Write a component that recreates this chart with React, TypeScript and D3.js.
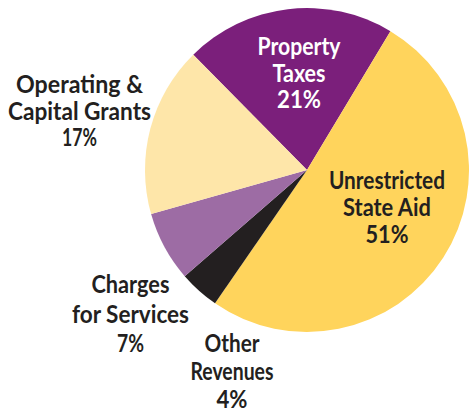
import React from "react";
import * as d3 from "d3";

const categories = ["Property Taxes", "Unrestricted State Aid", "Other Revenues", "Charges for Services", "Operating & Capital Grants"];
const values = [21, 51, 4, 7, 17];
const labelLines = [
  ["Property", "Taxes", "21%"],
  ["Unrestricted", "State Aid", "51%"],
  ["Other", "Revenues", "4%"],
  ["Charges", "for Services", "7%"],
  ["Operating &", "Capital Grants", "17%"],
];
const colors = ["#7B1F7B", "#FFD45C", "#231F20", "#9D6CA4", "#FEE6A9"];
const textColors = ["#FFFFFF", "#231F20", "#231F20", "#231F20", "#231F20"];

// layout: center x, first baseline, line gap, widths of each line
const labelLayout = [
  { x: 299, y: 55, gap: 26.7, widths: [83, 53, 44] },
  { x: 387, y: 189.3, gap: 27, widths: [116, 88, 43] },
  { x: 232, y: 351.7, gap: 28.3, widths: [55, 83, 31] },
  { x: 130.5, y: 293.3, gap: 29.5, widths: [78, 117, 27] },
  { x: 79.5, y: 93.3, gap: 26.5, widths: [127, 143, 35] },
];

export default function App() {
  const W = 469, H = 413;
  const cx = 307, cy = 170, r = 162;
  const start = (-44.6 * Math.PI) / 180;
  const pie = d3.pie<number>().sort(null).value((d) => d).startAngle(start).endAngle(start + 2 * Math.PI);
  const arcs = pie(values);
  const arc = d3.arc<d3.PieArcDatum<number>>().innerRadius(0).outerRadius(r);
  return (
    <svg width={W} height={H} style={{ position: "absolute", left: 0, top: 0, background: "#fff" }}>
      <g transform={`translate(${cx},${cy})`}>
        {arcs.map((a, i) => (
          <path key={categories[i]} d={arc(a) || ""} fill={colors[i]} />
        ))}
      </g>
      {labelLines.map((lines, i) => {
        const L = labelLayout[i];
        return (
          <g key={"l" + i}>
            {lines.map((t, j) => (
              <text
                key={j}
                x={L.x}
                y={L.y + j * L.gap}
                textAnchor="middle"
                fill={textColors[i]}
                fontFamily="Lato, 'DejaVu Sans', sans-serif"
                fontWeight={700}
                fontSize={24}
                textLength={L.widths[j]}
                lengthAdjust="spacingAndGlyphs"
              >
                {t}
              </text>
            ))}
          </g>
        );
      })}
    </svg>
  );
}
